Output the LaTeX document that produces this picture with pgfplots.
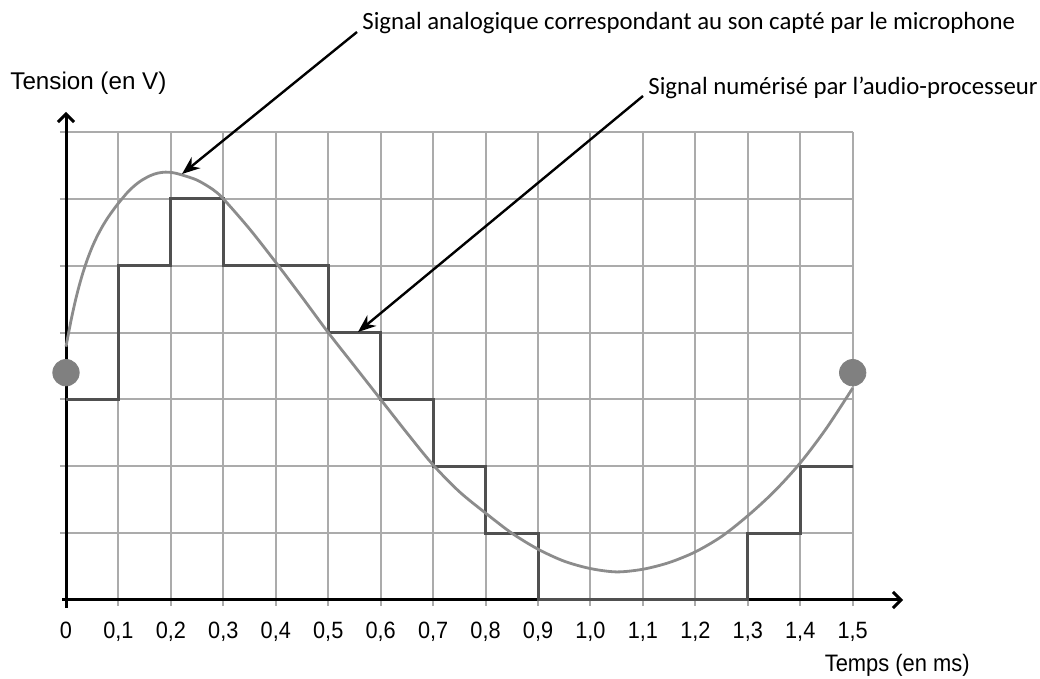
\documentclass[border=0pt]{standalone}
\usepackage{pgfplots}
\pgfplotsset{compat=1.18}
\usepackage{fontspec}
\setmainfont{Liberation Sans}
\newfontfamily\calibri{Carlito}
\newfontfamily\narrowsans[FakeStretch=0.92]{Liberation Sans}
\usetikzlibrary{arrows.meta}
\definecolor{gridc}{HTML}{ABABAB}
\definecolor{stepc}{HTML}{505050}
\definecolor{curvec}{HTML}{8C8C8C}
\definecolor{dotc}{HTML}{808080}

\begin{document}
\begin{tikzpicture}
\path[use as bounding box] (-33pt,-39.5pt) rectangle (487pt,300pt);
\begin{axis}[
  anchor=origin, at={(0pt,0pt)},
  scale only axis, width=393.35pt, height=234pt,
  xmin=0, xmax=1.5, ymin=0, ymax=7,
  clip=false,
  axis line style={draw=none},
  tick pos=left,
  xtick={0,0.1,0.2,0.3,0.4,0.5,0.6,0.7,0.8,0.9,1.0,1.1,1.2,1.3,1.4,1.5},
  xticklabels={0,{0,1},{0,2},{0,3},{0,4},{0,5},{0,6},{0,7},{0,8},{0,9},{1,0},{1,1},{1,2},{1,3},{1,4},{1,5}},
  ytick={1,2,3,4,5,6,7}, yticklabels={},
  grid=major, grid style={gridc, line width=1pt},
  tick style={gridc, line width=1pt},
  major tick length=3pt, tick align=outside,
  xticklabel style={font=\narrowsans\fontsize{11.8}{14}\selectfont, anchor=north, inner sep=0pt, yshift=-8pt},
]
\draw[black, line width=1.5pt, -{Straight Barb[length=4pt,width=8pt,line width=1.5pt]}] (axis cs:-0.0076,0) -- (axis cs:1.596,0);
\draw[black, line width=1.5pt, -{Straight Barb[length=4pt,width=8pt,line width=1.5pt]}] (axis cs:0,-0.12) -- (axis cs:0,7.30);
\addplot[const plot mark left, stepc, line width=1.5pt] coordinates {
 (0,3) (0.1,5) (0.2,6) (0.3,5) (0.4,5) (0.5,4) (0.6,3) (0.7,2) (0.8,1)
 (0.9,0) (1.0,0) (1.1,0) (1.2,0) (1.3,1) (1.4,2) (1.5,2)
};
\addplot[smooth, curvec, line width=1.4pt] coordinates {
 (0,3.79) (0.01,4.197) (0.02,4.546) (0.03,4.836) (0.04,5.078) (0.05,5.281)
 (0.06,5.45) (0.07,5.595) (0.08,5.721) (0.09,5.832) (0.1,5.935)
 (0.12,6.12) (0.14,6.255) (0.16,6.345) (0.175,6.385) (0.19,6.40) (0.205,6.39)
 (0.22,6.36) (0.25,6.28) (0.28,6.14) (0.3,6.0) (0.35,5.55) (0.4,5.05) (0.45,4.53)
 (0.5,4.0) (0.55,3.5) (0.6,3.0) (0.65,2.5) (0.7,2.02) (0.75,1.62) (0.8,1.3)
 (0.85,1.0) (0.9,0.76) (0.95,0.58) (1.0,0.47) (1.05,0.42) (1.1,0.46) (1.15,0.56)
 (1.2,0.72) (1.25,0.95) (1.3,1.26) (1.35,1.62) (1.4,2.05) (1.45,2.57) (1.5,3.17)
};
\addplot[only marks, mark=*, mark size=6.6pt, dotc, mark options={draw=dotc, fill=dotc}] coordinates {(0,3.40) (1.5,3.40)};
\end{axis}
\node[anchor=base west, inner sep=0pt, font=\fontsize{12.1}{14}\selectfont] at (-28pt,255pt) {Tension (en V)};
\node[anchor=base east, inner sep=0pt, font=\narrowsans\fontsize{11.9}{14}\selectfont] at (452pt,-36pt) {Temps (en ms)};
\draw[black, line width=1.2pt, -{Stealth[length=9pt,width=7pt]}] (145.5pt,284pt) -- (58pt,213pt);
\draw[black, line width=1.2pt, -{Stealth[length=9pt,width=7pt]}] (288.5pt,252pt) -- (146pt,134pt);
\node[anchor=base west, inner sep=0pt, font=\calibri\fontsize{12.4}{14}\selectfont] at (148pt,285pt) {Signal analogique correspondant au son capté par le microphone};
\node[anchor=base west, inner sep=0pt, font=\calibri\fontsize{12.4}{14}\selectfont] at (291pt,252.5pt) {Signal numérisé par l’audio-processeur};
\end{tikzpicture}
\end{document}
